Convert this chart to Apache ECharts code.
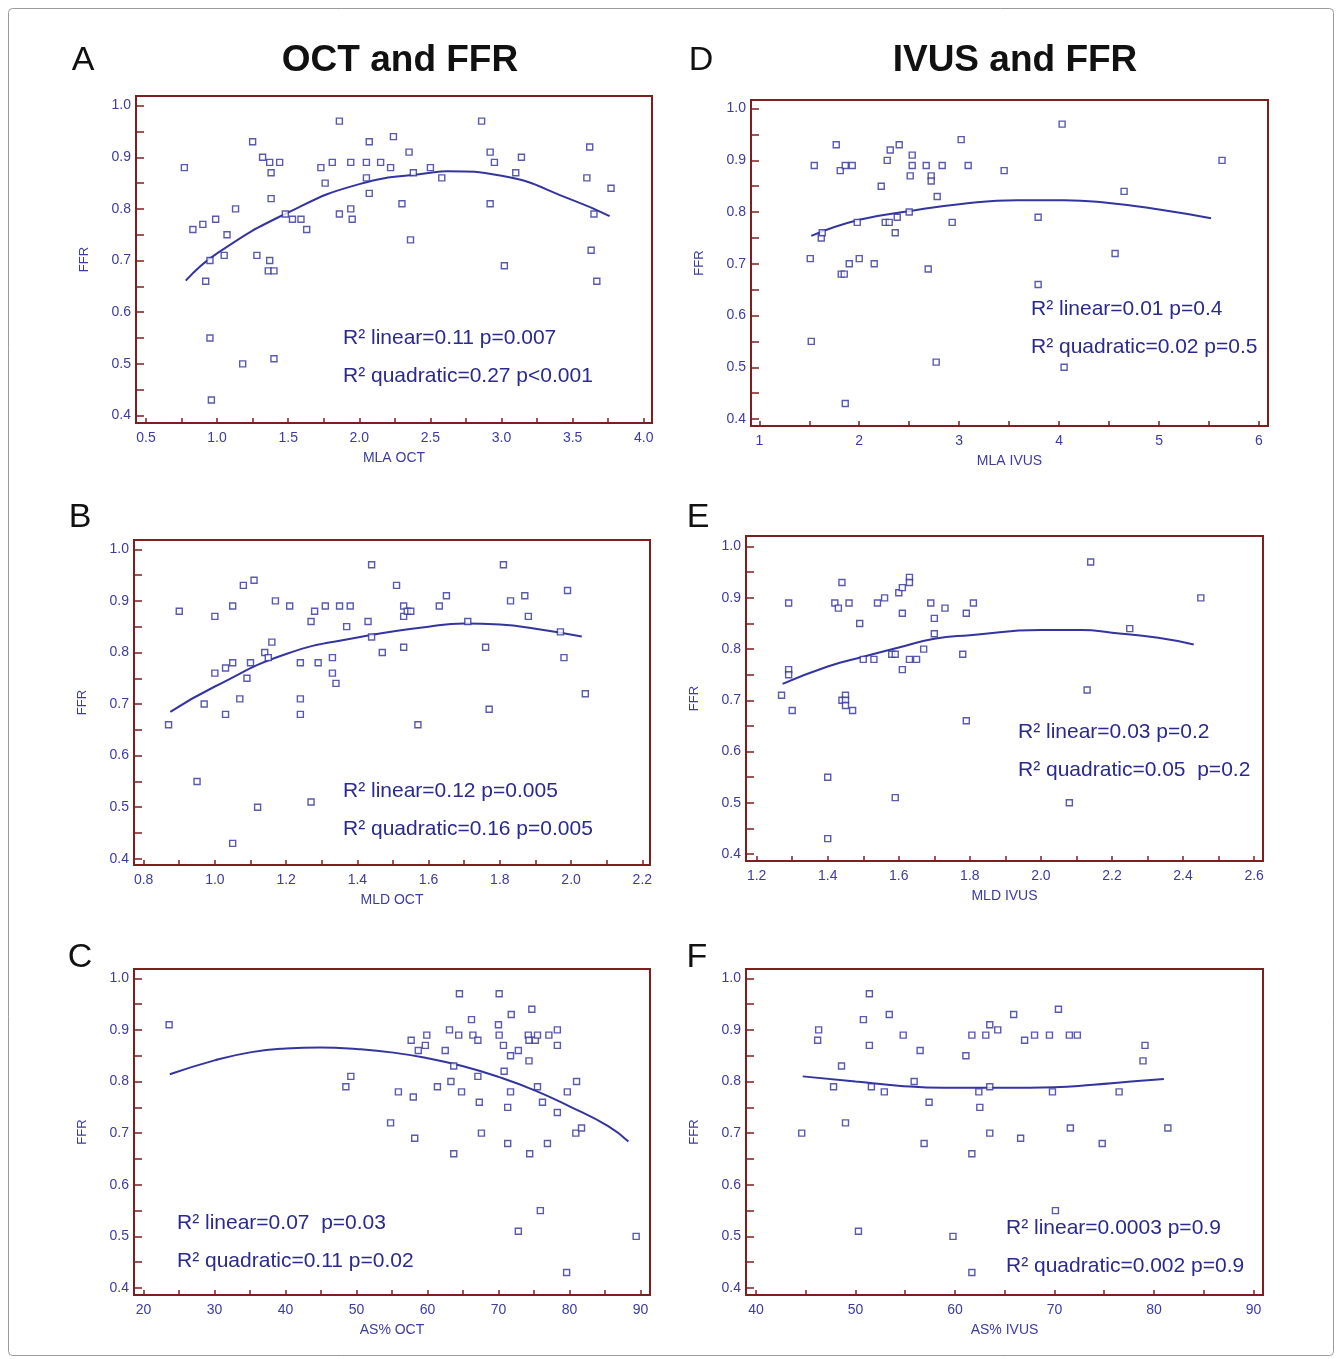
<!DOCTYPE html>
<html>
<head>
<meta charset="utf-8">
<title>OCT / IVUS and FFR</title>
<script src="https://cdn.jsdelivr.net/npm/echarts@6/dist/echarts.min.js"></script>
<style>
  html, body { margin: 0; padding: 0; background: #fff; }
  #chart { width: 1341px; height: 1359px; }
</style>
</head>
<body>
<div id="chart"></div>
<script>
// ---- data: [x, FFR] ----
var mlaOct = [
  [0.77,0.88],[0.83,0.76],[0.90,0.77],[0.92,0.66],[0.95,0.70],[0.95,0.55],[0.96,0.43],[0.99,0.78],
  [1.05,0.71],[1.07,0.75],[1.13,0.80],[1.18,0.50],[1.25,0.93],[1.28,0.71],[1.32,0.90],[1.37,0.89],
  [1.38,0.87],[1.38,0.82],[1.37,0.70],[1.36,0.68],[1.40,0.68],[1.40,0.51],[1.44,0.89],[1.48,0.79],
  [1.53,0.78],[1.59,0.78],[1.63,0.76],[1.73,0.88],[1.76,0.85],[1.81,0.89],[1.86,0.97],[1.86,0.79],
  [1.94,0.89],[1.94,0.80],[1.95,0.78],[2.05,0.89],[2.05,0.86],[2.07,0.93],[2.07,0.83],[2.15,0.89],
  [2.22,0.88],[2.24,0.94],[2.30,0.81],[2.35,0.91],[2.36,0.74],[2.38,0.87],[2.50,0.88],[2.58,0.86],
  [2.86,0.97],[2.92,0.91],[2.95,0.89],[2.92,0.81],[3.02,0.69],[3.10,0.87],[3.14,0.90],[3.60,0.86],
  [3.62,0.92],[3.63,0.72],[3.65,0.79],[3.67,0.66],[3.77,0.84]
];
var mlaOctFit = [[0.78,0.661],[1.0,0.714],[1.5,0.793],[2.0,0.848],[2.5,0.870],[2.62,0.873],[3.0,0.864],[3.5,0.817],[3.76,0.786]];

var mldOct = [
  [0.87,0.66],[0.90,0.88],[0.95,0.55],[0.97,0.70],[1.00,0.87],[1.00,0.76],[1.03,0.77],[1.03,0.68],
  [1.05,0.89],[1.05,0.78],[1.05,0.43],[1.07,0.71],[1.08,0.93],[1.09,0.75],[1.10,0.78],[1.11,0.94],
  [1.12,0.50],[1.14,0.80],[1.15,0.79],[1.16,0.82],[1.17,0.90],[1.21,0.89],[1.24,0.78],[1.24,0.71],
  [1.24,0.68],[1.27,0.86],[1.27,0.51],[1.28,0.88],[1.29,0.78],[1.31,0.89],[1.33,0.79],[1.33,0.76],
  [1.34,0.74],[1.35,0.89],[1.38,0.89],[1.37,0.85],[1.43,0.86],[1.44,0.97],[1.44,0.83],[1.47,0.80],
  [1.51,0.93],[1.53,0.89],[1.53,0.87],[1.53,0.81],[1.54,0.88],[1.55,0.88],[1.57,0.66],[1.63,0.89],
  [1.65,0.91],[1.71,0.86],[1.76,0.81],[1.77,0.69],[1.81,0.97],[1.83,0.90],[1.87,0.91],[1.88,0.87],
  [1.97,0.84],[1.98,0.79],[1.99,0.92],[2.04,0.72]
];
var mldOctFit = [[0.875,0.685],[1.0,0.734],[1.2,0.797],[1.4,0.829],[1.6,0.850],[1.7,0.856],[1.8,0.854],[1.9,0.846],[2.03,0.831]];

var asOct = [
  [23.6,0.91],[48.5,0.79],[49.2,0.81],[54.8,0.72],[55.9,0.78],[57.7,0.88],[58.0,0.77],[58.2,0.69],
  [58.7,0.86],[59.7,0.87],[59.9,0.89],[61.4,0.79],[62.5,0.86],[63.1,0.90],[63.3,0.80],[63.7,0.83],
  [63.7,0.66],[64.4,0.89],[64.5,0.97],[64.8,0.78],[66.2,0.92],[66.4,0.89],[67.1,0.88],[67.1,0.81],
  [67.3,0.76],[67.6,0.70],[70.0,0.91],[70.1,0.89],[70.1,0.97],[70.7,0.87],[70.8,0.82],[71.3,0.75],
  [71.3,0.68],[71.7,0.85],[71.7,0.78],[71.8,0.93],[72.8,0.86],[72.8,0.51],[74.2,0.89],[74.3,0.88],
  [74.3,0.84],[74.4,0.66],[74.7,0.94],[75.2,0.88],[75.5,0.89],[75.5,0.79],[75.9,0.55],[76.2,0.76],
  [76.9,0.68],[77.1,0.89],[78.3,0.90],[78.3,0.87],[78.3,0.74],[79.6,0.43],[79.7,0.78],[80.9,0.70],
  [81.0,0.80],[81.7,0.71],[89.4,0.50]
];
var asOctFit = [[23.7,0.814],[30,0.841],[35.2,0.857],[40,0.864],[44.9,0.866],[50,0.863],[55.2,0.856],[60,0.845],[64.9,0.830],[70,0.809],[75.1,0.783],[80,0.752],[85.4,0.714],[88.3,0.684]];

var mlaIvus = [
  [1.51,0.71],[1.52,0.55],[1.55,0.89],[1.62,0.75],[1.63,0.76],[1.77,0.93],[1.81,0.88],[1.82,0.68],
  [1.85,0.68],[1.86,0.89],[1.86,0.43],[1.90,0.70],[1.93,0.89],[1.98,0.78],[2.00,0.71],[2.15,0.70],
  [2.22,0.85],[2.26,0.78],[2.30,0.78],[2.28,0.90],[2.31,0.92],[2.36,0.76],[2.38,0.79],[2.40,0.93],
  [2.51,0.87],[2.50,0.80],[2.53,0.91],[2.53,0.89],[2.67,0.89],[2.69,0.69],[2.72,0.87],[2.72,0.86],
  [2.78,0.83],[2.77,0.51],[2.83,0.89],[2.93,0.78],[3.02,0.94],[3.09,0.89],[3.45,0.88],[3.79,0.79],
  [3.79,0.66],[4.03,0.97],[4.05,0.50],[4.56,0.72],[4.65,0.84],[5.63,0.90]
];
var mlaIvusFit = [[1.52,0.754],[2.0,0.785],[2.51,0.802],[3.0,0.815],[3.58,0.823],[4.05,0.823],[4.43,0.819],[5.0,0.805],[5.52,0.788]];

var mldIvus = [
  [1.27,0.71],[1.29,0.89],[1.29,0.76],[1.29,0.75],[1.30,0.68],[1.40,0.55],[1.40,0.43],[1.42,0.89],
  [1.43,0.88],[1.44,0.93],[1.44,0.70],[1.45,0.71],[1.45,0.70],[1.45,0.69],[1.46,0.89],[1.47,0.68],
  [1.49,0.85],[1.50,0.78],[1.53,0.78],[1.54,0.89],[1.56,0.90],[1.58,0.79],[1.59,0.79],[1.59,0.51],
  [1.60,0.91],[1.61,0.92],[1.61,0.87],[1.61,0.76],[1.63,0.94],[1.63,0.93],[1.63,0.78],[1.65,0.78],
  [1.67,0.80],[1.69,0.89],[1.70,0.86],[1.70,0.83],[1.73,0.88],[1.78,0.79],[1.79,0.87],[1.79,0.66],
  [1.81,0.89],[2.08,0.50],[2.13,0.72],[2.14,0.97],[2.25,0.84],[2.45,0.90]
];
var mldIvusFit = [[1.273,0.732],[1.40,0.766],[1.50,0.785],[1.60,0.803],[1.70,0.820],[1.80,0.827],[2.0,0.837],[2.115,0.837],[2.2,0.832],[2.33,0.822],[2.43,0.809]];

var asIvus = [
  [44.6,0.70],[46.2,0.88],[46.3,0.90],[47.8,0.79],[48.6,0.83],[49.0,0.72],[50.3,0.51],[50.8,0.92],
  [51.4,0.97],[51.4,0.87],[51.6,0.79],[52.9,0.78],[53.4,0.93],[54.8,0.89],[55.9,0.80],[56.5,0.86],
  [56.9,0.68],[57.4,0.76],[59.8,0.50],[61.1,0.85],[61.7,0.43],[61.7,0.89],[61.7,0.66],[62.4,0.78],
  [62.5,0.75],[63.1,0.89],[63.5,0.91],[63.5,0.79],[63.5,0.70],[64.3,0.90],[65.9,0.93],[66.6,0.69],
  [67.0,0.88],[68.0,0.89],[69.5,0.89],[69.8,0.78],[70.1,0.55],[70.4,0.94],[71.5,0.89],[71.6,0.71],
  [72.3,0.89],[74.8,0.68],[76.5,0.78],[78.9,0.84],[79.1,0.87],[81.4,0.71]
];
var asIvusFit = [[44.7,0.810],[50,0.800],[54.3,0.792],[58.9,0.788],[65,0.788],[70,0.789],[73.9,0.794],[77.7,0.800],[81.0,0.805]];

// tick labels
var ffrTicks = [0.4, 0.5, 0.6, 0.7, 0.8, 0.9, 1.0];
var ffrMinorTicks = [0.4,0.45,0.5,0.55,0.6,0.65,0.7,0.75,0.8,0.85,0.9,0.95,1.0];
var mlaOctTicks = [0.5, 1.0, 1.5, 2.0, 2.5, 3.0, 3.5, 4.0];
var mlaOctMinor = [0.5,0.75,1.0,1.25,1.5,1.75,2.0,2.25,2.5,2.75,3.0,3.25,3.5,3.75,4.0];
var mlaIvusTicks = [1, 2, 3, 4, 5, 6];
var mlaIvusMinor = [1,1.5,2,2.5,3,3.5,4,4.5,5,5.5,6];
var mldOctTicks = [0.8, 1.0, 1.2, 1.4, 1.6, 1.8, 2.0, 2.2];
var mldOctMinor = [0.8,0.9,1.0,1.1,1.2,1.3,1.4,1.5,1.6,1.7,1.8,1.9,2.0,2.1,2.2];
var mldIvusTicks = [1.2, 1.4, 1.6, 1.8, 2.0, 2.2, 2.4, 2.6];
var mldIvusMinor = [1.2,1.3,1.4,1.5,1.6,1.7,1.8,1.9,2.0,2.1,2.2,2.3,2.4,2.5,2.6];
var asOctTicks = [20, 30, 40, 50, 60, 70, 80, 90];
var asIvusTicks = [40, 50, 60, 70, 80, 90];
var asOctMinor = [20,25,30,35,40,45,50,55,60,65,70,75,80,85,90];
var asIvusMinor = [40,45,50,55,60,65,70,75,80,85,90];

var BLUE = '#2f2f9c';
var LABEL = '#3b3ba2';
var FRAME = '#7d1f1f';
var FONT = '"Liberation Sans", Arial, sans-serif';

var panels = [
  { grid: [136, 96, 516, 327], x: [0.43, 4.058], y: [0.3855, 1.0186], xLab: mlaOctTicks, xTick: mlaOctMinor, dec: 1,
    name: 'MLA OCT', pts: mlaOct, fit: mlaOctFit,
    txt: ['R\u00b2 linear=0.11 p=0.007', 'R\u00b2 quadratic=0.27 p<0.001'], tx: 343, ty: 338 },
  { grid: [751, 100, 517, 326], x: [0.917, 6.09], y: [0.3865, 1.0166], xLab: mlaIvusTicks, xTick: mlaIvusMinor, dec: 0,
    name: 'MLA IVUS', pts: mlaIvus, fit: mlaIvusFit,
    txt: ['R\u00b2 linear=0.01 p=0.4', 'R\u00b2 quadratic=0.02 p=0.5'], tx: 1031, ty: 309 },
  { grid: [134, 540, 516, 325], x: [0.773, 2.2215], y: [0.388, 1.018], xLab: mldOctTicks, xTick: mldOctMinor, dec: 1,
    name: 'MLD OCT', pts: mldOct, fit: mldOctFit,
    txt: ['R\u00b2 linear=0.12 p=0.005', 'R\u00b2 quadratic=0.16 p=0.005'], tx: 343, ty: 791 },
  { grid: [746, 536, 517, 325], x: [1.170, 2.625], y: [0.3864, 1.0207], xLab: mldIvusTicks, xTick: mldIvusMinor, dec: 1,
    name: 'MLD IVUS', pts: mldIvus, fit: mldIvusFit,
    txt: ['R\u00b2 linear=0.03 p=0.2', 'R\u00b2 quadratic=0.05  p=0.2'], tx: 1018, ty: 732 },
  { grid: [134, 969, 516, 326], x: [18.65, 91.35], y: [0.3865, 1.018], xLab: asOctTicks, xTick: asOctMinor, dec: 0,
    name: 'AS% OCT', pts: asOct, fit: asOctFit,
    txt: ['R\u00b2 linear=0.07  p=0.03', 'R\u00b2 quadratic=0.11 p=0.02'], tx: 177, ty: 1223 },
  { grid: [746, 969, 517, 326], x: [39.0, 90.96], y: [0.3865, 1.018], xLab: asIvusTicks, xTick: asIvusMinor, dec: 0,
    name: 'AS% IVUS', pts: asIvus, fit: asIvusFit,
    txt: ['R\u00b2 linear=0.0003 p=0.9', 'R\u00b2 quadratic=0.002 p=0.9'], tx: 1006, ty: 1228 }
];

var grids = [], xAxes = [], yAxes = [], series = [];
var graphics = [
  { type: 'rect', shape: { x: 8.5, y: 8.5, width: 1325, height: 1347, r: 4 },
    style: { fill: 'none', stroke: '#9a9a9a', lineWidth: 1 }, silent: true }
];

function headText(text, x, y, size, weight) {
  graphics.push({
    type: 'text', x: x, y: y,
    style: { text: text, font: weight + ' ' + size + 'px ' + FONT, fill: '#111', align: 'center', verticalAlign: 'middle' }
  });
}

headText('A', 83, 61, 34, 'normal');
headText('B', 80, 518, 34, 'normal');
headText('C', 80, 958, 34, 'normal');
headText('D', 701, 61, 34, 'normal');
headText('E', 698, 518, 34, 'normal');
headText('F', 697, 958, 34, 'normal');
headText('OCT and FFR', 400, 61, 37, 'bold');
headText('IVUS and FFR', 1015, 61, 37, 'bold');

panels.forEach(function (p, i) {
  grids.push({
    left: p.grid[0], top: p.grid[1], width: p.grid[2], height: p.grid[3],
    show: true, borderColor: FRAME, borderWidth: 2, backgroundColor: '#fff'
  });
  xAxes.push({
    type: 'value', gridIndex: i, min: p.x[0], max: p.x[1], position: 'bottom',
    name: p.name, nameLocation: 'middle', nameGap: 28,
    nameTextStyle: { color: LABEL, fontSize: 14, fontFamily: FONT },
    axisLine: { show: true, onZero: false, lineStyle: { color: FRAME, width: 2 } },
    axisTick: { show: true, inside: true, length: 5, customValues: p.xTick, lineStyle: { color: FRAME, width: 1.5 } },
    axisLabel: {
      customValues: p.xLab, margin: 8, color: LABEL, fontSize: 14, fontFamily: FONT,
      formatter: function (v) { return Number(v).toFixed(p.dec); }
    },
    splitLine: { show: false }
  });
  yAxes.push({
    type: 'value', gridIndex: i, min: p.y[0], max: p.y[1], position: 'left',
    name: 'FFR', nameLocation: 'middle', nameGap: 45,
    nameTextStyle: { color: LABEL, fontSize: 13, fontFamily: FONT },
    axisLine: { show: true, onZero: false, lineStyle: { color: FRAME, width: 2 } },
    axisTick: { show: true, inside: true, length: 8, customValues: ffrMinorTicks, lineStyle: { color: FRAME, width: 1.5 } },
    axisLabel: {
      customValues: ffrTicks, margin: 5, color: LABEL, fontSize: 14, fontFamily: FONT,
      formatter: function (v) { return Number(v).toFixed(1); }
    },
    splitLine: { show: false }
  });
  series.push({
    type: 'scatter', xAxisIndex: i, yAxisIndex: i, data: p.pts,
    symbol: 'rect', symbolSize: 6,
    itemStyle: { color: '#fff', borderColor: BLUE, borderWidth: 1.4 },
    silent: true, z: 3
  });
  series.push({
    type: 'line', xAxisIndex: i, yAxisIndex: i, data: p.fit,
    smooth: true, showSymbol: false,
    lineStyle: { color: '#34349f', width: 2 },
    silent: true, z: 2
  });
  p.txt.forEach(function (t, k) {
    graphics.push({
      type: 'text', x: p.tx, y: p.ty + k * 38, z: 10,
      style: { text: t, font: '21px ' + FONT, fill: '#2a2a8e', align: 'left', verticalAlign: 'middle' }
    });
  });
});

var chart = echarts.init(document.getElementById('chart'), null, { renderer: 'canvas' });
chart.setOption({
  animation: false,
  backgroundColor: '#fff',
  grid: grids,
  xAxis: xAxes,
  yAxis: yAxes,
  series: series,
  graphic: graphics
});
</script>
</body>
</html>
